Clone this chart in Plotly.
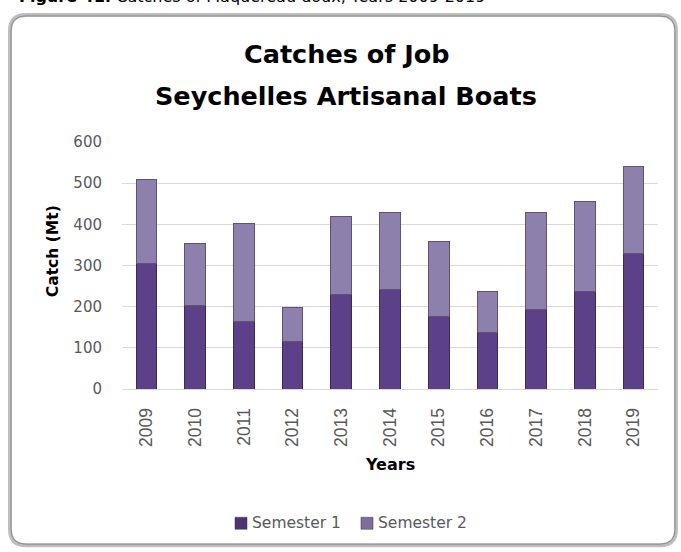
import plotly.graph_objects as go

years = ["2009", "2010", "2011", "2012", "2013", "2014", "2015", "2016", "2017", "2018", "2019"]
semester1 = [305, 202, 165, 115, 230, 241, 177, 137, 194, 238, 330]
semester2 = [205, 151, 236, 83, 189, 187, 181, 99, 235, 218, 211]
series_names = ["Semester 1", "Semester 2"]
y_ticks = [0, 100, 200, 300, 400, 500, 600]

W, H = 681, 552
L, R, T, B = 122, 658, 141.5, 389.3

fill_colors = ["#5d4188", "#8e80ad"]
edge_colors = ["#3a2a55", "#5e5275"]
legend_colors = ["#4b3472", "#7d6e9d"]


def px(x):
    return (x - L) / (R - L)


def py(y):
    return (B - y) / (B - T)


def rounded_rect(x0, y0, x1, y1, r):
    pts = [
        f"M {px(x0 + r)} {py(y0)}",
        f"L {px(x1 - r)} {py(y0)}",
        f"Q {px(x1)} {py(y0)} {px(x1)} {py(y0 + r)}",
        f"L {px(x1)} {py(y1 - r)}",
        f"Q {px(x1)} {py(y1)} {px(x1 - r)} {py(y1)}",
        f"L {px(x0 + r)} {py(y1)}",
        f"Q {px(x0)} {py(y1)} {px(x0)} {py(y1 - r)}",
        f"L {px(x0)} {py(y0 + r)}",
        f"Q {px(x0)} {py(y0)} {px(x0 + r)} {py(y0)}",
        "Z",
    ]
    return " ".join(pts)


fig = go.Figure()
for name, vals, fc, ec in zip(series_names, [semester1, semester2], fill_colors, edge_colors):
    fig.add_trace(go.Bar(
        x=years, y=vals, name=name, showlegend=False,
        marker=dict(color=fc, line=dict(color=ec, width=1)),
    ))

shapes = [
    dict(type="path", xref="paper", yref="paper",
         path=rounded_rect(10, 14, 676, 546, 16),
         line=dict(color="#bdbdbd", width=4), fillcolor="white", layer="below"),
    dict(type="path", xref="paper", yref="paper",
         path=rounded_rect(11, 15, 675, 545, 15),
         line=dict(color="#8c8c8c", width=1), fillcolor="rgba(0,0,0,0)", layer="below"),
]

title_font = dict(family="DejaVu Sans, sans-serif", size=25.5, color="#000000")
annotations = [
    dict(text="<b>Figure 41:</b> Catches of Maquereau doux, Years 2009-2019",
         xref="paper", yref="paper", x=px(17), y=py(-4), xanchor="left", yanchor="middle",
         showarrow=False, font=dict(family="DejaVu Sans, sans-serif", size=16, color="#000000")),
    dict(text="<b>Catches of Job</b>",
         xref="paper", yref="paper", x=px(346), y=py(53), xanchor="center", yanchor="middle",
         showarrow=False, font=title_font),
    dict(text="<b>Seychelles Artisanal Boats</b>",
         xref="paper", yref="paper", x=px(346), y=py(95), xanchor="center", yanchor="middle",
         showarrow=False, font=title_font),
    dict(text="<b>Catch (Mt)</b>",
         xref="paper", yref="paper", x=px(53), y=py(251), xanchor="center", yanchor="middle",
         textangle=-90, showarrow=False,
         font=dict(family="DejaVu Sans, sans-serif", size=15.5, color="#000000")),
    dict(text="<b>Years</b>",
         xref="paper", yref="paper", x=px(390), y=py(465), xanchor="center", yanchor="middle",
         showarrow=False,
         font=dict(family="DejaVu Sans, sans-serif", size=16, color="#000000")),
]

# legend (square swatch + label) for each series
legend_x = [235, 361]
for name, lx, lc in zip(series_names, legend_x, legend_colors):
    shapes.append(dict(type="rect", xref="paper", yref="paper",
                       x0=px(lx), x1=px(lx + 12), y0=py(530), y1=py(518),
                       fillcolor=lc, line=dict(color="#3a2a55", width=0.5)))
    annotations.append(dict(text=name, xref="paper", yref="paper",
                            x=px(lx + 15), y=py(524), xanchor="left", yanchor="middle",
                            showarrow=False,
                            font=dict(family="DejaVu Sans, sans-serif", size=15.5, color="#595959")))

fig.update_layout(
    width=W, height=H,
    margin=dict(l=L, r=W - R, t=T, b=H - B, pad=0),
    paper_bgcolor="white", plot_bgcolor="white",
    barmode="stack", bargap=0.575,
    shapes=shapes, annotations=annotations,
    font=dict(family="DejaVu Sans, sans-serif", color="#595959", size=15),
    showlegend=False,
    xaxis=dict(
        type="category", tickangle=-90, showgrid=False, showline=False,
        ticks="outside", ticklen=11, tickcolor="rgba(0,0,0,0)",
        tickfont=dict(family="Liberation Sans, Arial, sans-serif", size=17.5, color="#595959"),
    ),
    yaxis=dict(
        range=[0, 600], tickvals=y_ticks, showgrid=True, gridcolor="#d9d9d9", gridwidth=1,
        zeroline=True, zerolinecolor="#d9d9d9", zerolinewidth=1, showline=False,
        ticks="outside", ticklen=16, tickcolor="rgba(0,0,0,0)",
        tickfont=dict(size=15, color="#595959"),
    ),
)

fig.write_html("out.html", config={"displayModeBar": False},
               post_script="document.body.style.margin='0px';")
